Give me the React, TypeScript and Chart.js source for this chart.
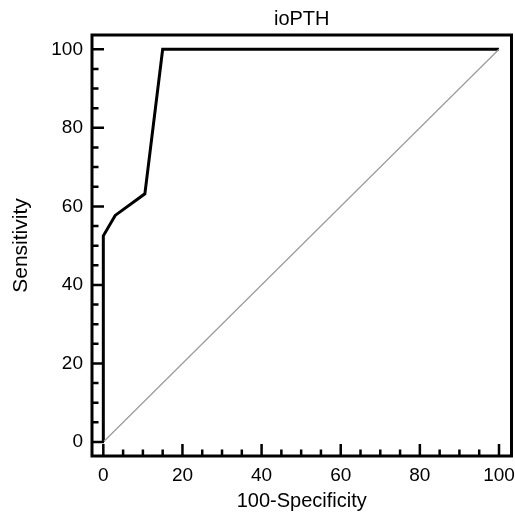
import React, { useEffect, useRef } from 'react';
import { Chart, registerables } from 'chart.js';

Chart.register(...registerables);

const rocX = [0, 0, 3, 10.5, 15, 100];
const rocY = [0, 52.5, 57.7, 63.2, 100, 100];
const refX = [0, 100];
const refY = [0, 100];
const majorTicks = [0, 20, 40, 60, 80, 100];
const minorTicks = [5, 10, 15, 25, 30, 35, 45, 50, 55, 65, 70, 75, 85, 90, 95];
const chartTitle = 'ioPTH';
const xTitle = '100-Specificity';
const yTitle = 'Sensitivity';

const FONT = "'Liberation Sans', Arial, Helvetica, sans-serif";

const frameTicks = {
  id: 'frameTicks',
  afterDraw(chart: any) {
    const { ctx, chartArea: a, scales } = chart;
    const x = scales.x;
    const y = scales.y;
    ctx.save();
    ctx.strokeStyle = '#000';
    ctx.lineWidth = 2.5;
    ctx.beginPath();
    const tick = (v: number, len: number) => {
      const px = x.getPixelForValue(v);
      ctx.moveTo(px, a.bottom);
      ctx.lineTo(px, a.bottom - len);
      const py = y.getPixelForValue(v);
      ctx.moveTo(a.left, py);
      ctx.lineTo(a.left + len, py);
    };
    majorTicks.forEach((v) => tick(v, 12));
    minorTicks.forEach((v) => tick(v, 6.5));
    ctx.stroke();
    ctx.lineWidth = 3;
    ctx.strokeRect(a.left, a.top, a.right - a.left, a.bottom - a.top);
    ctx.restore();
  },
};

export default function App() {
  const ref = useRef<HTMLCanvasElement | null>(null);
  useEffect(() => {
    if (!ref.current) return;
    const tickFont = { family: FONT, size: 19 };
    const titleFont = { family: FONT, size: 20 };
    const chart = new Chart(ref.current, {
      type: 'scatter',
      data: {
        datasets: [
          {
            data: refX.map((v, i) => ({ x: v, y: refY[i] })),
            showLine: true,
            borderColor: '#9a9a9a',
            borderWidth: 1.2,
            pointRadius: 0,
            tension: 0,
          },
          {
            data: rocX.map((v, i) => ({ x: v, y: rocY[i] })),
            showLine: true,
            borderColor: '#000',
            borderWidth: 3,
            pointRadius: 0,
            tension: 0,
            borderJoinStyle: 'miter',
          },
        ],
      },
      options: {
        animation: false,
        responsive: false,
        devicePixelRatio: 1,
        layout: { padding: { left: 0, top: 0, right: 3.5, bottom: 0 } },
        plugins: {
          legend: { display: false },
          tooltip: { enabled: false },
          title: {
            display: true,
            text: chartTitle,
            fullSize: false,
            color: '#000',
            font: { ...titleFont, weight: 'normal' },
            padding: { top: 7.5, bottom: 3.5 },
          },
        },
        scales: {
          x: {
            type: 'linear',
            min: -2.86,
            max: 103.16,
            grid: { display: false, drawTicks: false },
            border: { display: false },
            ticks: { color: '#000', font: tickFont, padding: 8, maxRotation: 0 },
            afterBuildTicks: (s: any) => {
              s.ticks = majorTicks.map((v) => ({ value: v }));
            },
            afterFit: (s: any) => {
              s.height = 59;
              s.paddingLeft = 0;
              s.paddingRight = 0;
            },
            title: {
              display: true,
              text: xTitle,
              color: '#000',
              font: titleFont,
              padding: { top: 0, bottom: 1.5 },
            },
          },
          y: {
            type: 'linear',
            min: -3.565,
            max: 103.64,
            grid: { display: false, drawTicks: false },
            border: { display: false },
            ticks: { color: '#000', font: tickFont, padding: 9 },
            afterBuildTicks: (s: any) => {
              s.ticks = majorTicks.map((v) => ({ value: v }));
            },
            afterFit: (s: any) => {
              s.width = 92;
              s.paddingTop = 0;
              s.paddingBottom = 0;
            },
            title: {
              display: true,
              text: yTitle,
              color: '#000',
              font: { family: FONT, size: 21 },
              padding: { top: 8.5, bottom: 0 },
            },
          },
        },
      },
      plugins: [frameTicks],
    } as any);
    return () => chart.destroy();
  }, []);
  return (
    <div style={{ position: 'absolute', left: 0, top: 0, width: 515, height: 515, background: '#fff' }}>
      <canvas ref={ref} width={515} height={515} style={{ display: 'block' }} />
    </div>
  );
}
